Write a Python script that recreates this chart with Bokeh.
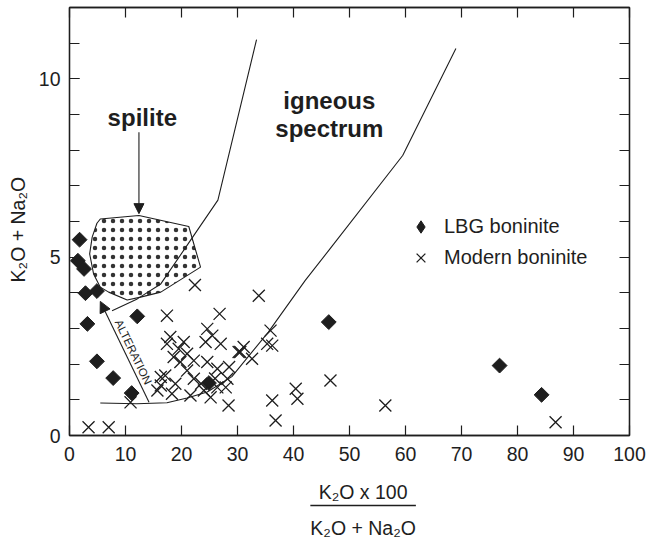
import math
from bokeh.plotting import figure
from bokeh.models import (FixedTicker, LinearAxis, Label, Arrow, NormalHead, Range1d,
                          Legend, LegendItem, CustomJSTickFormatter)
from bokeh.layouts import column
from bokeh.embed import file_html
from bokeh.resources import INLINE
from bokeh.core.properties import value

# ---------------- data ----------------
lbg_x = [1.8, 1.5, 2.6, 2.85, 4.9, 3.2, 12.1, 4.9, 7.8, 11.1, 24.9, 46.3, 76.8, 84.3]
lbg_y = [5.49, 4.9, 4.67, 3.99, 4.05, 3.13, 3.34, 2.08, 1.61, 1.19, 1.47, 3.18, 1.96, 1.14]

modern_x = [3.4, 7.0, 10.9, 15.7, 16.3, 17.4, 26.8, 33.8, 22.4, 24.6, 25.5, 24.3, 27.0,
            18.0, 17.4, 20.4, 19.5, 18.6, 21.0, 22.2, 19.8, 24.6, 31.1, 30.5, 32.6,
            28.5, 26.4, 21.0, 17.1, 16.3, 18.9, 22.2, 28.2, 27.9, 18.3, 24.0, 25.2,
            28.4, 21.6, 26.4, 35.3, 35.9, 36.2, 30.2, 46.6, 40.4, 40.7, 36.2, 36.8,
            56.4, 86.8, 26.0, 23.5]
modern_y = [0.23, 0.23, 0.93, 1.26, 1.64, 3.36, 3.41, 3.92, 4.22, 2.99, 2.80, 2.62, 2.57,
            2.76, 2.57, 2.62, 2.43, 2.20, 2.29, 2.10, 2.06, 2.06, 2.48, 2.34, 2.15,
            1.92, 1.87, 1.82, 1.68, 1.40, 1.45, 1.59, 1.59, 1.35, 1.17, 1.26, 1.07,
            0.84, 1.12, 1.35, 2.57, 2.94, 2.52, 2.34, 1.54, 1.31, 1.03, 0.98, 0.42,
            0.84, 0.37, 1.60, 1.45]

# spilite field outline
spilite_x = [5.5, 12.4, 21.3, 23.4, 16.3, 12.7, 10.3, 7.0, 5.5, 4.3, 3.6, 4.05, 4.9]
spilite_y = [6.07, 6.17, 5.86, 4.72, 4.02, 3.88, 3.80, 4.02, 4.16, 4.53, 5.09, 5.56, 5.95]

# igneous spectrum boundaries
ign_left_x = [7.6, 12.1, 16.3, 21.6, 26.5, 33.4]
ign_left_y = [3.5, 3.83, 4.25, 5.47, 6.6, 11.1]
ign_right_x = [5.5, 12.0, 17.4, 21.0, 24.6, 29.0, 35.5, 42.1, 46.3, 59.5, 69.0]
ign_right_y = [0.91, 0.89, 0.92, 1.05, 1.22, 1.65, 2.9, 4.35, 5.19, 7.85, 10.85]

series_labels = ["LBG boninite", "Modern boninite"]
x_ticks = list(range(0, 101, 10))
y_major = [0, 5, 10]
y_minor = list(range(0, 13))

FONT = "Liberation Sans"
INK = "#1e1e1e"

p = figure(width=658, height=470, x_range=Range1d(0, 100), y_range=Range1d(0, 12),
           output_backend="svg", toolbar_location=None,
           min_border_left=69, min_border_right=29, min_border_top=7, min_border_bottom=35,
           x_axis_location=None, y_axis_location=None)
p.grid.visible = False
p.outline_line_color = INK
p.outline_line_width = 1.3
p.background_fill_color = "white"
p.border_fill_color = "white"

blank = CustomJSTickFormatter(code="return ''")

def style_axis(ax, labels=True):
    ax.axis_line_color = INK
    ax.axis_line_width = 1.3
    ax.major_tick_line_color = INK
    ax.minor_tick_line_color = INK
    ax.major_tick_line_width = 1.2
    ax.minor_tick_line_width = 1.2
    ax.major_tick_in = 10
    ax.major_tick_out = 0
    ax.minor_tick_in = 10
    ax.minor_tick_out = 0
    ax.major_label_text_font = FONT
    ax.major_label_text_font_size = "19.5px"
    ax.major_label_text_color = INK
    if not labels:
        ax.formatter = blank
        ax.major_label_standoff = 0

bottom = LinearAxis(ticker=FixedTicker(ticks=x_ticks))
style_axis(bottom)
bottom.major_label_standoff = 11
p.add_layout(bottom, "below")

top = LinearAxis(ticker=FixedTicker(ticks=x_ticks))
style_axis(top, labels=False)
p.add_layout(top, "above")

left = LinearAxis(ticker=FixedTicker(ticks=y_major, minor_ticks=y_minor),
                  axis_label="K₂O + Na₂O\u00a0\u00a0\u00a0")
style_axis(left)
left.major_label_standoff = 9
left.axis_label_standoff = 7
left.axis_label_text_font = FONT
left.axis_label_text_font_size = "19.5px"
left.axis_label_text_font_style = "normal"
left.axis_label_text_color = INK
p.add_layout(left, "left")

right = LinearAxis(ticker=FixedTicker(ticks=y_minor))
style_axis(right, labels=False)
p.add_layout(right, "right")

# spilite field
p.patch(spilite_x, spilite_y, fill_color="white", line_color=INK, line_width=1.1,
        hatch_pattern="dot", hatch_color="#333333", hatch_scale=9, hatch_weight=0.6)

# igneous spectrum boundaries
p.line(ign_left_x, ign_left_y, line_color=INK, line_width=1.1)
p.line(ign_right_x, ign_right_y, line_color=INK, line_width=1.1)

# data
r_mod = p.scatter(modern_x, modern_y, marker="x", size=17, line_color=INK, line_width=1.3)
# diamond-shaped key for the legend (fully hidden under the rotated squares below)
r_lbg_key = p.scatter(lbg_x, lbg_y, marker="diamond", size=11, fill_color=INK, line_color=INK)
r_lbg = p.scatter(lbg_x, lbg_y, marker="square", angle=math.pi / 4, size=10.5,
                  fill_color=INK, line_color=INK)

# arrows
p.add_layout(Arrow(end=NormalHead(size=10, fill_color=INK, line_color=INK),
                   x_start=12.4, y_start=8.5, x_end=12.4, y_end=6.22,
                   line_color=INK, line_width=1.1))
p.add_layout(Arrow(end=NormalHead(size=11, fill_color=INK, line_color=INK),
                   x_start=14.2, y_start=0.93, x_end=5.5, y_end=3.76,
                   line_color=INK, line_width=1.1))

# texts
def lab(x, y, t, size, bold=False, angle=0.0):
    p.add_layout(Label(x=x, y=y, text=t, text_font=FONT, text_font_size=size,
                       text_font_style="bold" if bold else "normal", text_color=INK,
                       text_align="center", text_baseline="middle",
                       angle=angle, angle_units="deg"))

lab(13.0, 8.92, "spilite", "24px", bold=True)
lab(46.4, 9.39, "igneous", "24px", bold=True)
lab(46.4, 8.6, "spectrum", "24px", bold=True)
lab(11.4, 2.34, "ALTERATION", "11.5px", angle=-64.2)

legend = Legend(items=[LegendItem(label=series_labels[0], renderers=[r_lbg_key]),
                       LegendItem(label=series_labels[1], renderers=[r_mod])],
                location=(336, 162), padding=0, margin=0, spacing=0,
                glyph_width=31, glyph_height=31, label_height=20, label_standoff=8,
                border_line_alpha=0, background_fill_alpha=0,
                label_text_font=FONT, label_text_font_size="20px", label_text_color=INK)
p.add_layout(legend, "center")

# x axis title as a fraction
q = figure(width=658, height=72, x_range=Range1d(0, 658), y_range=Range1d(72, 0),
           output_backend="svg", toolbar_location=None, min_border=0,
           x_axis_location=None, y_axis_location=None)
q.grid.visible = False
q.outline_line_color = None
q.text(x=[345], y=[21], text=["K₂O x 100"], text_font=value(FONT), text_font_size="19.5px",
       text_color=INK, text_align="center", text_baseline="middle")
q.segment(x0=[283], y0=[35], x1=[407], y1=[35], line_color=INK, line_width=1.3)
q.text(x=[345], y=[57], text=["K₂O + Na₂O"], text_font=value(FONT), text_font_size="19.5px",
       text_color=INK, text_align="center", text_baseline="middle")

layout = column(p, q, spacing=0)
open("out.html", "w").write(file_html(layout, INLINE))
